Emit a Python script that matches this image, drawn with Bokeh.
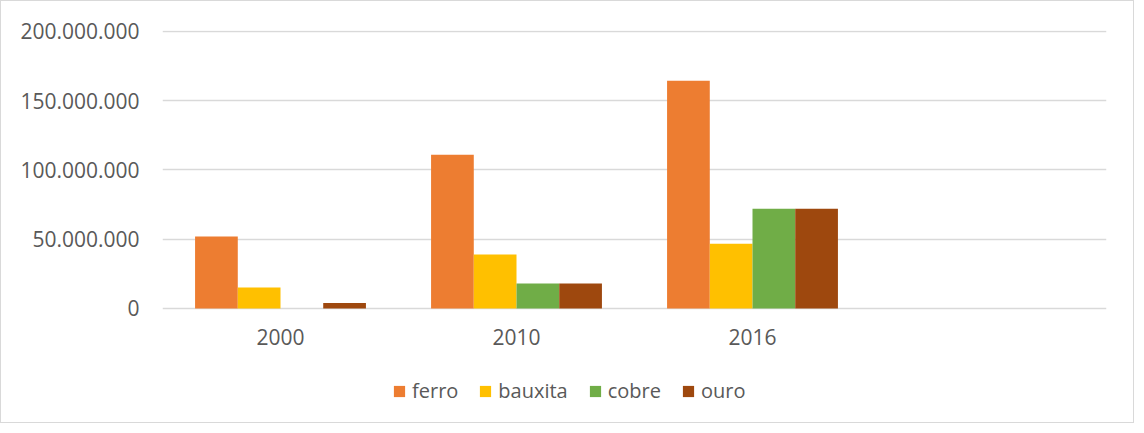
from bokeh.plotting import figure
from bokeh.models import ColumnDataSource, FactorRange, Range1d, Legend, LegendItem, CustomJSTickFormatter, FixedTicker
from bokeh.transform import dodge
from bokeh.core.properties import value
from bokeh.embed import file_html
from bokeh.resources import INLINE

years = ["2000", "2010", "2016", " "]
ferro = [52_000_000, 111_000_000, 164_500_000, 0]
bauxita = [15_200_000, 39_000_000, 46_800_000, 0]
cobre = [0, 18_000_000, 72_000_000, 0]
ouro = [3_900_000, 18_000_000, 72_000_000, 0]
series = ["ferro", "bauxita", "cobre", "ouro"]
colors = ["#ED7D31", "#FFC000", "#70AD47", "#9E480E"]
y_ticks = [0, 50_000_000, 100_000_000, 150_000_000, 200_000_000]

src = ColumnDataSource(dict(year=years, ferro=ferro, bauxita=bauxita, cobre=cobre, ouro=ouro))

FONT = "Open Sans"
TXT = "#595959"
GRID = "#D9D9D9"

p = figure(x_range=FactorRange(*years, range_padding=0), y_range=Range1d(-83_760_000, 200_720_000),
           width=1134, height=423, output_backend="svg", toolbar_location=None,
           min_border_left=161, min_border_right=29, min_border_top=29, min_border_bottom=0)
p.styles = {"border": "1px solid #D9D9D9"}
p.outline_line_color = None
p.background_fill_color = "white"
p.border_fill_color = "white"

w = 0.181
offsets = [-1.5 * w, -0.5 * w, 0.5 * w, 1.5 * w]
renderers = []
for name, col, off in zip(series, colors, offsets):
    r = p.vbar(x=dodge("year", off, range=p.x_range), top=name, width=w, source=src,
               fill_color=col, line_color=None)
    renderers.append(r)

# y axis
p.yaxis.ticker = FixedTicker(ticks=y_ticks)
p.yaxis.formatter = CustomJSTickFormatter(code="""
    return Math.round(tick).toString().replace(/\\B(?=(\\d{3})+(?!\\d))/g, '.');
""")
p.yaxis.axis_line_color = None
p.yaxis.major_tick_line_color = None
p.yaxis.minor_tick_line_color = None
p.yaxis.major_tick_out = 0
p.yaxis.major_label_standoff = 23
p.yaxis.major_label_text_font = FONT
p.yaxis.major_label_text_font_size = "21px"
p.yaxis.major_label_text_color = TXT

# category labels drawn at the zero line (x axis itself hidden)
p.xaxis.visible = False
label_src = ColumnDataSource(dict(year=years[:3], zero=[0, 0, 0]))
p.text(x="year", y="zero", text="year", source=label_src, y_offset=29,
       text_align="center", text_baseline="alphabetic",
       text_font=value(FONT), text_font_size="21px", text_color=TXT)

p.xgrid.grid_line_color = None
p.ygrid.grid_line_color = GRID
p.ygrid.grid_line_width = 1.5

legend = Legend(items=[LegendItem(label=n, renderers=[r]) for n, r in zip(series, renderers)],
                orientation="horizontal", location=(230, 20),
                glyph_width=14, glyph_height=14, label_standoff=6, spacing=20,
                padding=0, margin=0, border_line_color=None, background_fill_alpha=0,
                label_text_font=FONT, label_text_font_size="20px", label_text_color=TXT)
p.add_layout(legend, "center")

open("out.html", "w").write(file_html(p, INLINE))
